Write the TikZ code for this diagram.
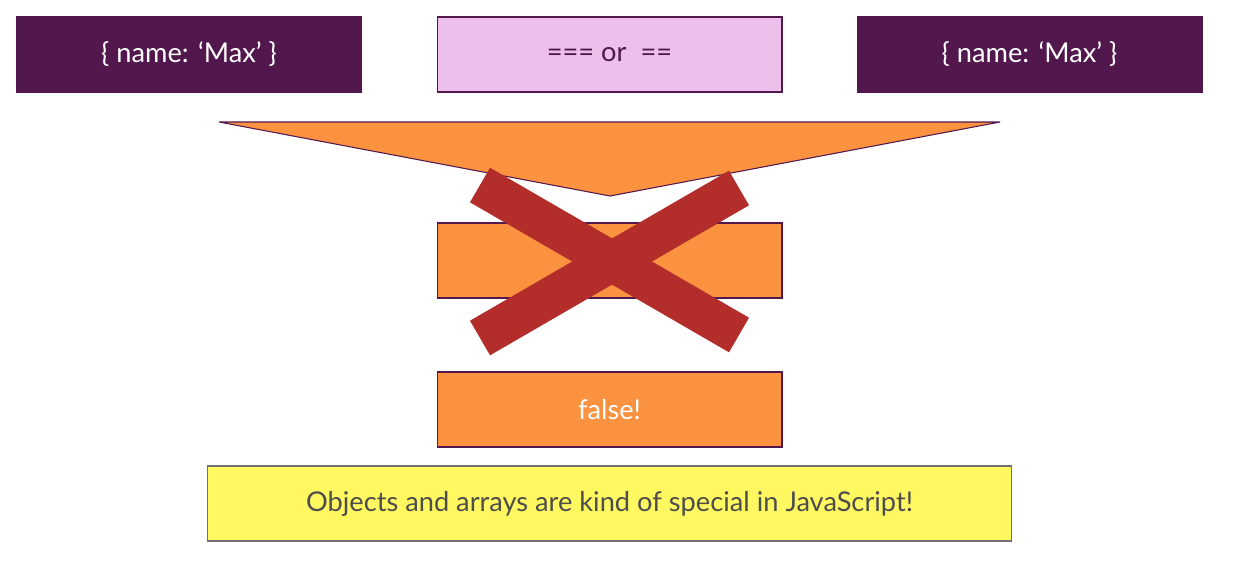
\documentclass[tikz,border=0pt]{standalone}
\usepackage{fontspec}
\setmainfont{Lato}
\usepackage{tikz}

\definecolor{plum}{RGB}{82,24,77}
\definecolor{pinkbox}{RGB}{236,192,234}
\definecolor{orangebox}{RGB}{250,146,64}
\definecolor{crossred}{RGB}{179,45,43}
\definecolor{notebox}{RGB}{255,248,96}
\definecolor{notetext}{RGB}{77,77,77}

\begin{document}
\begin{tikzpicture}[
  x=0.02cm,y=-0.02cm,
  box/.style={draw=plum,line width=0.6pt,minimum width=6.9cm,minimum height=1.5cm,
    inner sep=0pt,font=\fontsize{15.5}{18}\selectfont},
  objbox/.style={box,fill=plum,text=white},
  opbox/.style={box,fill=pinkbox,text=plum},
  resbox/.style={box,fill=orangebox,text=white},
  notebx/.style={box,draw=notetext!80,fill=notebox,text=notetext,minimum width=16.1cm},
  cross/.style={crossred,line width=0.8cm}
]
\useasboundingbox (0,0) rectangle (1236,566);

%--------------------
% 比較する値
%--------------------
\node[objbox] (objA) at (189,54.5) {\{ name: ‘Max’ \}};
\node[opbox]  (cmp)  at (609.5,54.5) {=== or~ ==};
\node[objbox] (objB) at (1029.5,54.5) {\{ name: ‘Max’ \}};

% 漏斗
\draw[draw=plum,fill=orangebox,line width=0.6pt]
  (219,122) -- (1000,122) -- (610,196) -- cycle;

%--------------------
% 結果
%--------------------
\node[resbox] (res) at (609.5,260.5) {};

% バツ印
\draw[cross] (480,185) -- (739,335);
\draw[cross] (480,338) -- (739,188);

\node[resbox] (falseres) at (609.5,409.5) {false!};

\node[notebx] (note) at (609.5,503.5)
  {Objects and arrays are kind of special in JavaScript!};

\end{tikzpicture}
\end{document}
